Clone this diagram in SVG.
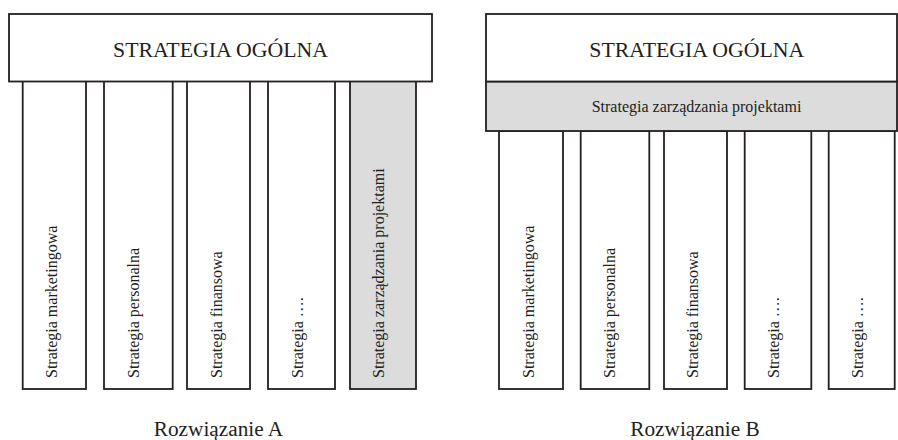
<svg xmlns="http://www.w3.org/2000/svg" width="898" height="440" viewBox="0 0 898 440">
<style>
.box{fill:#ffffff;stroke:#231f20;stroke-width:1.8}
.gray{fill:#dcdcdd;stroke:#231f20;stroke-width:1.8}
.t{font-family:"Liberation Serif","Times New Roman",serif;fill:#231f20}
.big{font-size:21.8px;text-anchor:middle}
.lbl{font-size:21.3px;text-anchor:middle}
.sm{font-size:16px}
.mid{text-anchor:middle}
</style>
<rect width="898" height="440" fill="#ffffff"/>
<!-- Solution A -->
<g id="a-col1"><rect class="box" x="22.7" y="81" width="63.3" height="308"/><text class="t sm" transform="translate(57.3,378) rotate(-90)">Strategia marketingowa</text></g>
<g id="a-col2"><rect class="box" x="104" y="81" width="68.7" height="308"/><text class="t sm" transform="translate(138.9,378) rotate(-90)">Strategia personalna</text></g>
<g id="a-col3"><rect class="box" x="187" y="81" width="63" height="308"/><text class="t sm" transform="translate(222.3,378) rotate(-90)">Strategia finansowa</text></g>
<g id="a-col4"><rect class="box" x="268" y="81" width="67" height="308"/><text class="t sm" transform="translate(303.3,378) rotate(-90)">Strategia ….</text></g>
<g id="a-col5"><rect class="gray" x="350" y="81" width="66" height="308"/><text class="t sm" transform="translate(384,378) rotate(-90)">Strategia zarządzania projektami</text></g>
<g id="a-top"><rect class="box" x="9" y="14" width="423" height="67.5"/><text class="t big" x="220.5" y="56.7">STRATEGIA OGÓLNA</text></g>
<g id="a-label"><text class="t lbl" x="218.5" y="436">Rozwiązanie A</text></g>
<!-- Solution B -->
<g id="b-col1"><rect class="box" x="499" y="131" width="64" height="258"/><text class="t sm" transform="translate(533.6,378) rotate(-90)">Strategia marketingowa</text></g>
<g id="b-col2"><rect class="box" x="580.7" y="131" width="68.6" height="258"/><text class="t sm" transform="translate(615.3,378) rotate(-90)">Strategia personalna</text></g>
<g id="b-col3"><rect class="box" x="664" y="131" width="63" height="258"/><text class="t sm" transform="translate(697.9,378) rotate(-90)">Strategia finansowa</text></g>
<g id="b-col4"><rect class="box" x="744.7" y="131" width="66.6" height="258"/><text class="t sm" transform="translate(779.3,378) rotate(-90)">Strategia ….</text></g>
<g id="b-col5"><rect class="box" x="828.7" y="131" width="66" height="258"/><text class="t sm" transform="translate(862.6,378) rotate(-90)">Strategia ….</text></g>
<g id="b-band"><rect class="gray" x="486" y="81.5" width="411" height="49.5"/><text class="t sm mid" x="696.5" y="111.5">Strategia zarządzania projektami</text></g>
<g id="b-top"><rect class="box" x="486" y="14" width="411" height="67.5"/><text class="t big" x="696.8" y="56.7">STRATEGIA OGÓLNA</text></g>
<g id="b-label"><text class="t lbl" x="695" y="436">Rozwiązanie B</text></g>
<g id="connectors"/>
</svg>
